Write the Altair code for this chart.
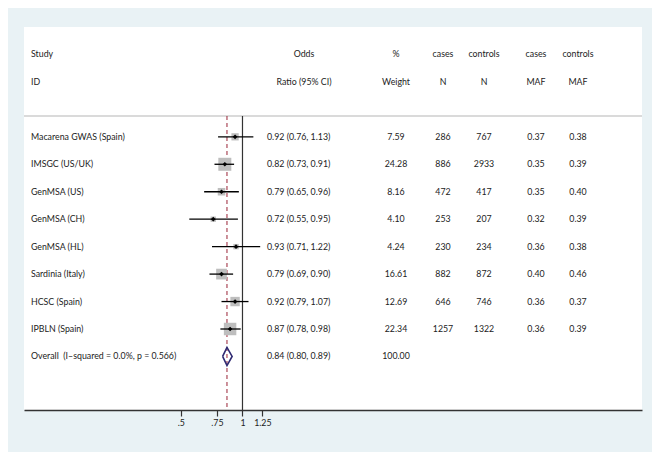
import altair as alt
import pandas as pd
import numpy as np

# ---------------- data ----------------
studies = ["Macarena GWAS (Spain)", "IMSGC (US/UK)", "GenMSA (US)", "GenMSA (CH)",
           "GenMSA (HL)", "Sardinia (Italy)", "HCSC (Spain)", "IPBLN (Spain)"]
odds = [0.92, 0.82, 0.79, 0.72, 0.93, 0.79, 0.92, 0.87]
ci_low = [0.76, 0.73, 0.65, 0.55, 0.71, 0.69, 0.79, 0.78]
ci_high = [1.13, 0.91, 0.96, 0.95, 1.22, 0.90, 1.07, 0.98]
weights = [7.59, 24.28, 8.16, 4.10, 4.24, 16.61, 12.69, 22.34]
cases_n = [286, 886, 472, 253, 230, 882, 646, 1257]
controls_n = [767, 2933, 417, 207, 234, 872, 746, 1322]
cases_maf = [0.37, 0.35, 0.35, 0.32, 0.36, 0.40, 0.36, 0.36]
controls_maf = [0.38, 0.39, 0.40, 0.39, 0.38, 0.46, 0.37, 0.39]

overall_label = "Overall\u00a0\u00a0(I\u2013squared = 0.0%, p = 0.566)"
overall_or = 0.84
overall_low = 0.80
overall_high = 0.89
overall_weight = 100.00

header_top = ["Study", "Odds", "%", "cases", "controls", "cases", "controls"]
header_bottom = ["ID", "Ratio (95% CI)", "Weight", "N", "N", "MAF", "MAF"]
x_ticks = [0.5, 0.75, 1, 1.25]

# ---------------- layout ----------------
W, H = 618, 383
FONT = "Lato"
FS = 8.8
TXT = "#222222"

n = len(studies)
rows = list(range(n))
overall_row = n

forest = pd.DataFrame({"row": rows, "or": odds, "lo": ci_low, "hi": ci_high, "w": weights})

# table cells
cells = []
for i in range(n):
    cells += [
        (i, "study", studies[i]),
        (i, "orci", f"{odds[i]:.2f} ({ci_low[i]:.2f}, {ci_high[i]:.2f})"),
        (i, "weight", f"{weights[i]:.2f}"),
        (i, "cn", str(cases_n[i])),
        (i, "ctn", str(controls_n[i])),
        (i, "cm", f"{cases_maf[i]:.2f}"),
        (i, "ctm", f"{controls_maf[i]:.2f}"),
    ]
cells += [
    (overall_row, "study", overall_label),
    (overall_row, "orci", f"{overall_or:.2f} ({overall_low:.2f}, {overall_high:.2f})"),
    (overall_row, "weight", f"{overall_weight:.2f}"),
]
col_keys = ["study", "orhead", "weight", "cn", "ctn", "cm", "ctm"]
for k, t, b in zip(col_keys, header_top, header_bottom):
    cells.append((-3, k, t))
    cells.append((-2, k, b))
table = pd.DataFrame(cells, columns=["row", "col", "text"])

col_specs = [
    ("study", 7, "left"),
    ("orci", 243, "left"),
    ("orhead", 280, "center"),
    ("weight", 372, "center"),
    ("cn", 419, "center"),
    ("ctn", 460, "center"),
    ("cm", 512, "center"),
    ("ctm", 554, "center"),
]

yscale = alt.Scale(domain=[-4, 9.95], reverse=True, nice=False, zero=False)
xscale = alt.Scale(type="log", domain=[0.08587, 89.02], nice=False, zero=False)
xaxis = alt.Axis(values=x_ticks, format="~g",
                 labelExpr="datum.value < 1 ? slice(datum.label, 1) : datum.label",
                 title=None, grid=False, domainColor="#333333", domainWidth=1.5,
                 tickColor="#333333", tickSize=6, tickWidth=1.2,
                 labelFont=FONT, labelFontSize=FS, labelColor=TXT, labelPadding=2,
                 labelFlush=False, labelOverlap=False)

base = alt.Chart(forest)

squares = base.mark_square(color="#bebebe", opacity=1).encode(
    x=alt.X("or:Q", scale=xscale, axis=xaxis),
    y=alt.Y("row:Q", scale=yscale, axis=None),
    size=alt.Size("w:Q", scale=alt.Scale(domain=[0, 25], range=[0, 174]), legend=None),
)
ci = base.mark_rule(color="black", strokeWidth=1.3).encode(
    x="lo:Q", x2="hi:Q", y=alt.Y("row:Q", scale=yscale, axis=None)
)
pts = base.mark_point(shape="diamond", filled=True, color="black", size=22, opacity=1).encode(
    x="or:Q", y=alt.Y("row:Q", scale=yscale, axis=None)
)

sep = alt.Chart(pd.DataFrame({"a": [0]})).mark_rule(color="#dadada", strokeWidth=2).encode(
    x=alt.value(0), x2=alt.value(W), y=alt.value(89)
)
null_line = alt.Chart(pd.DataFrame({"a": [0]})).mark_rule(color="#333333", strokeWidth=1.2).encode(
    x=alt.datum(1), y=alt.value(89), y2=alt.value(H)
)
ov_line = alt.Chart(pd.DataFrame({"a": [0]})).mark_rule(
    color="#9a2236", strokeWidth=1, strokeDash=[4, 3]
).encode(x=alt.datum(overall_or), y=alt.value(89), y2=alt.value(H))

half = 0.33
diamond = pd.DataFrame({
    "x": [overall_low, overall_or, overall_high, overall_or, overall_low],
    "y": [overall_row, overall_row - half, overall_row, overall_row + half, overall_row],
    "o": [0, 1, 2, 3, 4],
})
dia = alt.Chart(diamond).mark_line(color="#2f2a72", strokeWidth=1.6).encode(
    x="x:Q", y=alt.Y("y:Q", scale=yscale, axis=None), order="o:Q"
)

text_layers = []
for key, px, al in col_specs:
    text_layers.append(
        alt.Chart(table).transform_filter(alt.datum.col == key).mark_text(
            align=al, baseline="middle", font=FONT, fontSize=FS, color=TXT
        ).encode(x=alt.value(px), y=alt.Y("row:Q", scale=yscale, axis=None), text="text:N")
    )

chart = alt.layer(sep, ov_line, null_line, squares, ci, pts, dia, *text_layers).properties(
    width=W, height=H,
    padding={"left": 16, "top": 19, "right": 10, "bottom": 42},
    autosize=alt.AutoSizeParams(type="none"),
    background="#e9f2f5",
).configure_view(fill="white", stroke=None)

chart.save("out.html", embed_options={"renderer": "svg", "actions": False})
